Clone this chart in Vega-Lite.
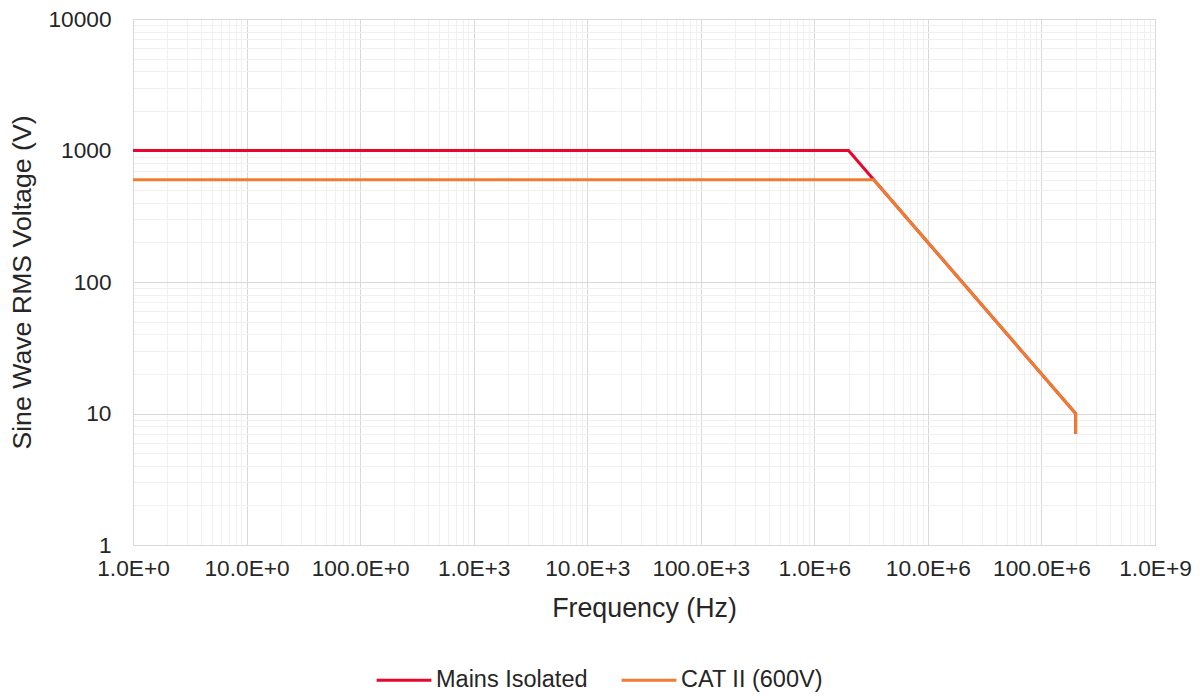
{
  "$schema": "https://vega.github.io/schema/vega-lite/v6.json",
  "autosize": {"type": "none"},
  "width": 1022,
  "height": 526,
  "padding": {"left": 133, "top": 19, "right": 48, "bottom": 151},
  "background": "white",
  "config": {
    "font": "Liberation Sans",
    "view": {"stroke": "#d9d9d9", "strokeWidth": 1}
  },
  "data": {
    "values": [
      {"series": "Mains Isolated", "i": 1, "f": 1, "v": 1000},
      {"series": "Mains Isolated", "i": 2, "f": 2000000, "v": 1000},
      {"series": "Mains Isolated", "i": 3, "f": 200000000, "v": 10},
      {"series": "Mains Isolated", "i": 4, "f": 200000000, "v": 7},
      {"series": "CAT II (600V)", "i": 1, "f": 1, "v": 600},
      {"series": "CAT II (600V)", "i": 2, "f": 3333333, "v": 600},
      {"series": "CAT II (600V)", "i": 3, "f": 200000000, "v": 10},
      {"series": "CAT II (600V)", "i": 4, "f": 200000000, "v": 7}
    ]
  },
  "mark": {"type": "line", "strokeWidth": 3, "clip": true},
  "encoding": {
    "x": {
      "field": "f",
      "type": "quantitative",
      "scale": {"type": "log", "domain": [1, 1000000000], "nice": false},
      "axis": {
        "title": "Frequency (Hz)",
        "titleFontSize": 26.8,
        "titleFontWeight": "normal",
        "titleColor": "#262626",
        "titlePadding": 16,
        "labelFontSize": 22.7,
        "labelColor": "#262626",
        "labelPadding": 12,
        "labelOverlap": false,
        "labelFlush": false,
        "ticks": false,
        "domainColor": "#d9d9d9",
        "grid": true,
        "gridColor": {"condition": {"test": "abs(log(datum.value)/LN10 - round(log(datum.value)/LN10)) < 1e-6", "value": "#d9d9d9"}, "value": "#f0f0f0"},
        "values": [1,2,3,4,5,6,7,8,9,10,20,30,40,50,60,70,80,90,100,200,300,400,500,600,700,800,900,1000,2000,3000,4000,5000,6000,7000,8000,9000,10000,20000,30000,40000,50000,60000,70000,80000,90000,100000,200000,300000,400000,500000,600000,700000,800000,900000,1000000,2000000,3000000,4000000,5000000,6000000,7000000,8000000,9000000,10000000,20000000,30000000,40000000,50000000,60000000,70000000,80000000,90000000,100000000,200000000,300000000,400000000,500000000,600000000,700000000,800000000,900000000,1000000000],
        "labelExpr": "abs(log(datum.value)/LN10 - round(log(datum.value)/LN10)) < 1e-6 ? (format(datum.value / pow(10, floor(round(log(datum.value)/LN10)/3)*3), '.1f') + 'E+' + (floor(round(log(datum.value)/LN10)/3)*3)) : ''"
      }
    },
    "y": {
      "field": "v",
      "type": "quantitative",
      "scale": {"type": "log", "domain": [1, 10000], "nice": false},
      "axis": {
        "title": "Sine Wave RMS Voltage (V)",
        "titleFontSize": 26.7,
        "titleFontWeight": "normal",
        "titleColor": "#262626",
        "titlePadding": 11,
        "labelFontSize": 22.7,
        "labelColor": "#262626",
        "labelPadding": 22,
        "labelOverlap": false,
        "labelFlush": false,
        "ticks": false,
        "domainColor": "#d9d9d9",
        "grid": true,
        "gridColor": {"condition": {"test": "abs(log(datum.value)/LN10 - round(log(datum.value)/LN10)) < 1e-6", "value": "#d9d9d9"}, "value": "#f0f0f0"},
        "values": [1,2,3,4,5,6,7,8,9,10,20,30,40,50,60,70,80,90,100,200,300,400,500,600,700,800,900,1000,2000,3000,4000,5000,6000,7000,8000,9000,10000],
        "labelExpr": "abs(log(datum.value)/LN10 - round(log(datum.value)/LN10)) < 1e-6 ? format(datum.value, 'd') : ''"
      }
    },
    "color": {
      "field": "series",
      "type": "nominal",
      "sort": ["Mains Isolated", "CAT II (600V)"],
      "scale": {"domain": ["Mains Isolated", "CAT II (600V)"], "range": ["#E8062F", "#ED7D31"]},
      "legend": {
        "title": null,
        "orient": "none",
        "direction": "horizontal",
        "legendX": 242,
        "legendY": 632,
        "symbolType": "stroke",
        "symbolSize": 3000,
        "symbolStrokeWidth": 3,
        "labelFontSize": 23.5,
        "labelColor": "#262626",
        "labelOffset": 3,
        "columnPadding": 27
      }
    },
    "order": {"field": "i", "type": "quantitative"}
  }
}
